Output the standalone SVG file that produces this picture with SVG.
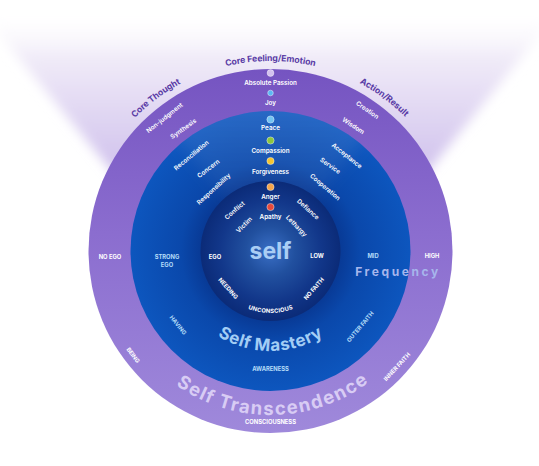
<svg xmlns="http://www.w3.org/2000/svg" width="539" height="466" viewBox="0 0 539 466">
<defs>
<style>
.t{font-family:Inter,'Noto Sans',sans-serif;text-anchor:middle;dominant-baseline:central}
.w{fill:#ffffff;font-weight:600;font-size:6.3px}
.c{fill:#ffffff;font-weight:700;font-size:5.8px}
.lb{fill:#b4dcf8}
.hd{fill:#5a3ca6;font-weight:700;font-size:8.7px}
.dot{stroke:#ffffff;stroke-opacity:0.55;stroke-width:0.8}
</style>
<linearGradient id="coneG" x1="0" y1="10" x2="0" y2="200" gradientUnits="userSpaceOnUse">
<stop offset="0" stop-color="#ffffff" stop-opacity="0"/>
<stop offset="0.25" stop-color="#f0ebf8"/>
<stop offset="1" stop-color="#c8b7ea"/>
</linearGradient>
<filter id="blur" x="-10%" y="-10%" width="120%" height="120%"><feGaussianBlur stdDeviation="6"/></filter>
<filter id="blur2" x="-20%" y="-20%" width="140%" height="140%"><feGaussianBlur stdDeviation="8"/></filter>
<linearGradient id="outerG" x1="0" y1="69" x2="0" y2="433" gradientUnits="userSpaceOnUse">
<stop offset="0" stop-color="#7554c1"/>
<stop offset="0.45" stop-color="#8b6dcf"/>
<stop offset="1" stop-color="#9f89db"/>
</linearGradient>
<radialGradient id="midG" cx="270.5" cy="251" r="140" gradientUnits="userSpaceOnUse">
<stop offset="0.5" stop-color="#083a96"/>
<stop offset="0.64" stop-color="#0a48ab"/>
<stop offset="1" stop-color="#0d56be"/>
</radialGradient>
<radialGradient id="innerG" cx="270.5" cy="251" r="70" gradientUnits="userSpaceOnUse">
<stop offset="0" stop-color="#3a6fc6"/>
<stop offset="0.35" stop-color="#21509f"/>
<stop offset="0.72" stop-color="#12378a"/>
<stop offset="1" stop-color="#0b2b78"/>
</radialGradient>
<linearGradient id="wedgeG" x1="0" y1="110" x2="0" y2="250" gradientUnits="userSpaceOnUse">
<stop offset="0" stop-color="#ffffff" stop-opacity="0.11"/>
<stop offset="1" stop-color="#ffffff" stop-opacity="0"/>
</linearGradient>
<clipPath id="midClip"><circle cx="270.5" cy="251" r="140"/></clipPath>
<path id="arcTop" d="M 77.5 251 A 193 193 0 0 1 463.5 251"/>
<path id="arcUnc" d="M 211.5 251 A 59 59 0 0 0 329.5 251"/>
<path id="arcMast" d="M 176.5 251 A 94 94 0 0 0 364.5 251"/>
<path id="arcTrans" d="M 113.5 251 A 157 157 0 0 0 427.5 251"/>
</defs>
<rect width="539" height="466" fill="#ffffff"/>
<polygon id="cone" points="-25,5 178,251 363,251 564,5" fill="url(#coneG)" filter="url(#blur)"/>

<g id="ring-outer">
<circle cx="270.5" cy="251" r="182" fill="url(#outerG)"/>
</g>
<g id="ring-mid">
<circle cx="270.5" cy="251" r="140" fill="url(#midG)"/>
<g clip-path="url(#midClip)"><polygon points="270.5,251 120,70 421,70" fill="url(#wedgeG)" filter="url(#blur2)"/></g>
</g>
<g id="ring-inner">
<circle cx="270.5" cy="251" r="70" fill="url(#innerG)"/>
</g>

<g id="connectors"/>

<g id="headings" class="t hd">
<text><textPath href="#arcTop" startOffset="50%">Core Feeling/Emotion</textPath></text>
<text><textPath href="#arcTop" startOffset="29.5%">Core Thought</textPath></text>
<text><textPath href="#arcTop" startOffset="70.3%">Action/Result</textPath></text>
</g>

<g id="dots">
<circle class="dot" cx="270.5" cy="73" r="3.4" fill="#d3c1ef"/>
<circle class="dot" cx="270.5" cy="93" r="2.8" fill="#5cb8f4"/>
<circle class="dot" cx="270.5" cy="119.5" r="3.6" fill="#73c4f3"/>
<circle class="dot" cx="270.5" cy="140.5" r="3.6" fill="#8cc63f"/>
<circle class="dot" cx="270.5" cy="161" r="3.6" fill="#f3c431"/>
<circle class="dot" cx="270.5" cy="187" r="3.6" fill="#f4a44b"/>
<circle class="dot" cx="270.5" cy="207" r="3.6" fill="#e64a3b"/>
</g>

<g id="outer-labels" class="t">
<text class="w" x="270.5" y="83">Absolute Passion</text>
<text class="w" x="270.5" y="103">Joy</text>
<text class="w" x="270.5" y="81" transform="rotate(-38.5 270.5 251)">Non-judgment</text>
<text class="w" x="270.5" y="101" transform="rotate(-35.5 270.5 251)">Synthesis</text>
<text class="w" x="270.5" y="80" transform="rotate(34.5 270.5 251)">Creation</text>
<text class="w" x="270.5" y="101" transform="rotate(33.5 270.5 251)">Wisdom</text>
<text class="c" x="110" y="256">NO EGO</text>
<text class="c" x="432" y="255">HIGH</text>
<text class="c" x="270.5" y="423" transform="rotate(52.8 270.5 251)">BEING</text>
<text class="c" x="270.5" y="422" transform="rotate(-47.5 270.5 251)">INNER FAITH</text>
<text class="c" x="270.5" y="421.5">CONSCIOUSNESS</text>
<text style="fill:#d8ccf4;font-weight:700;font-size:18.5px;letter-spacing:1px"><textPath href="#arcTrans" startOffset="50.5%">Self Transcendence</textPath></text>
</g>

<g id="mid-labels" class="t">
<text class="w" x="270.5" y="128">Peace</text>
<text class="w" x="270.5" y="150.5">Compassion</text>
<text class="w" x="270.5" y="171.5">Forgiveness</text>
<text class="w" x="270.5" y="127" transform="rotate(-39.6 270.5 251)">Reconciliation</text>
<text class="w" x="270.5" y="148" transform="rotate(-37 270.5 251)">Concern</text>
<text class="w" x="270.5" y="167" transform="rotate(-42.5 270.5 251)">Responsibility</text>
<text class="w" x="270.5" y="129" transform="rotate(38.7 270.5 251)">Acceptance</text>
<text class="w" x="270.5" y="147" transform="rotate(35 270.5 251)">Service</text>
<text class="w" x="270.5" y="167" transform="rotate(40.5 270.5 251)">Cooperation</text>
<text class="c lb" x="167" y="256.5">STRONG</text>
<text class="c lb" x="167" y="264.5">EGO</text>
<text class="c lb" x="373" y="255">MID</text>
<text class="c lb" x="270.5" y="369" transform="rotate(51.3 270.5 251)">HAVING</text>
<text class="c lb" x="270.5" y="368" transform="rotate(-49.8 270.5 251)">OUTER FAITH</text>
<text class="c lb" x="270.5" y="368.5">AWARENESS</text>
<text style="fill:#a7b6ec;font-weight:700;font-size:12px;letter-spacing:2.6px" x="398" y="271">Frequency</text>
<text style="fill:#a2cdf5;font-weight:700;font-size:17px"><textPath href="#arcMast" startOffset="50%">Self Mastery</textPath></text>
</g>

<g id="inner-labels" class="t">
<text class="w" x="270.5" y="197">Anger</text>
<text class="w" x="270.5" y="217">Apathy</text>
<text class="w" x="270.5" y="197" transform="rotate(-41.4 270.5 251)">Conflict</text>
<text class="w" x="270.5" y="214" transform="rotate(-45 270.5 251)">Victim</text>
<text class="w" x="270.5" y="195" transform="rotate(42 270.5 251)">Defiance</text>
<text class="w" x="270.5" y="215" transform="rotate(46 270.5 251)">Lethargy</text>
<text class="c" x="215" y="256">EGO</text>
<text class="c" x="317" y="255">LOW</text>
<text class="c" x="270.5" y="307" transform="rotate(48.5 270.5 251)">NEEDING</text>
<text class="c" x="270.5" y="308" transform="rotate(-49 270.5 251)">NO FAITH</text>
<text class="c"><textPath href="#arcUnc" startOffset="50%">UNCONSCIOUS</textPath></text>
<text style="fill:#a9cdf4;font-weight:700;font-size:23px" x="270.5" y="251">self</text>
</g>
</svg>
